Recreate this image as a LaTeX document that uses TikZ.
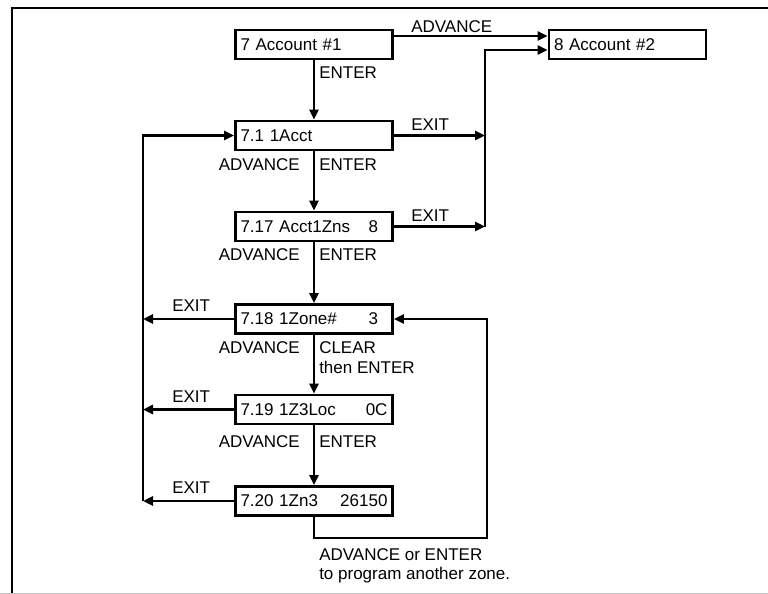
\documentclass[tikz,border=0pt]{standalone}
\usepackage{fontspec}
\setmainfont{Liberation Sans}
\usetikzlibrary{arrows.meta,positioning}

\begin{document}
\begin{tikzpicture}[x=1pt, y=-1pt, -{Triangle[length=10pt,width=9pt]}, line width=2.5pt,
    font=\fontsize{17}{19}\selectfont,
    menu/.style={draw, rectangle, line width=2.8pt, minimum width=157pt, minimum height=29pt,
        text width=147pt, inner sep=5pt, align=left},
    lbl/.style={inner sep=0pt, anchor=base west},
    lblr/.style={inner sep=0pt, anchor=base east}]

    \useasboundingbox (0,0) rectangle (768,594);
    \draw[-, line width=2.8pt] (12,594) -- (12,8) -- (768,8);
    \draw[-, black!25, line width=1pt] (0,593) -- (768,593);

    \node[menu] (A7) at (314,44.5)
    {7 Account \#1};

    \node[menu] (A8) at (627.5,44.5)
    {8 Account \#2};

    \node[menu] (A71) at (314,135.5)
    {7.1 1Acct};

    \node[menu] (A717) at (314,226.5)
    {7.17 Acct1Zns\hfill 8\phantom{0}};

    \node[menu] (A718) at (314,319)
    {7.18 1Zone\#\hfill 3\phantom{0}};

    \node[menu] (A719) at (314,409.5)
    {7.19 1Z3Loc\hfill 0C};

    \node[menu] (A720) at (314,501)
    {7.20 1Zn3\hfill 26150};

    \coordinate (busR) at (485,50);
    \coordinate (busL) at (143,501);
    \coordinate (loopR) at (487,538);

    % ---------------------------------------------------------

    \node[lbl] (eA7) at (318,78) {ENTER};
    \node[lbl] (advA7) at (410,33) {ADVANCE};
    \node[lbl] (exA71) at (410,130) {EXIT};
    \node[lblr] (advA71) at (301,170) {ADVANCE};
    \node[lbl] (eA71) at (318,170) {ENTER};
    \node[lbl] (exA717) at (410,221) {EXIT};
    \node[lblr] (advA717) at (301,260) {ADVANCE};
    \node[lbl] (eA717) at (318,260) {ENTER};
    \node[lbl] (exA718) at (171,311) {EXIT};
    \node[lblr] (advA718) at (301,353) {ADVANCE};
    \node[lbl] (clA718) at (318,353) {CLEAR};
    \node[lbl] (thA718) at (318,373) {then ENTER};
    \node[lbl] (exA719) at (171,402) {EXIT};
    \node[lblr] (advA719) at (301,447) {ADVANCE};
    \node[lbl] (eA719) at (318,447) {ENTER};
    \node[lbl] (exA720) at (171,493) {EXIT};
    \node[lbl] (note1) at (318,560) {ADVANCE or ENTER};
    \node[lbl] (note2) at (318,579) {to program another zone.};

    % ---------------------------------------------------------

    \path[]
    {
        (A7) edge (A71)
        (A71) edge (A717)
        (A717) edge (A718)
        (A718) edge (A719)
        (A719) edge (A720)
    };

    \draw ([yshift=8.5pt]A7.east) -- ([yshift=8.5pt]A8.west);

    \draw (A71.east) -- (A71.east -| busR);
    \draw (A717.east) -- (A717.east -| busR);
    \draw (A717.east -| busR) -- (busR) -- ([yshift=-5.5pt]A8.west);

    \draw (busL) -- (busL |- A71.west) -- (A71.west);
    \draw (A718.west) -- (A718.west -| busL);
    \draw (A719.west) -- (A719.west -| busL);
    \draw (A720.west) -- (A720.west -| busL);

    \draw (A720.south) |- (loopR) |- (A718.east);
\end{tikzpicture}
\end{document}
